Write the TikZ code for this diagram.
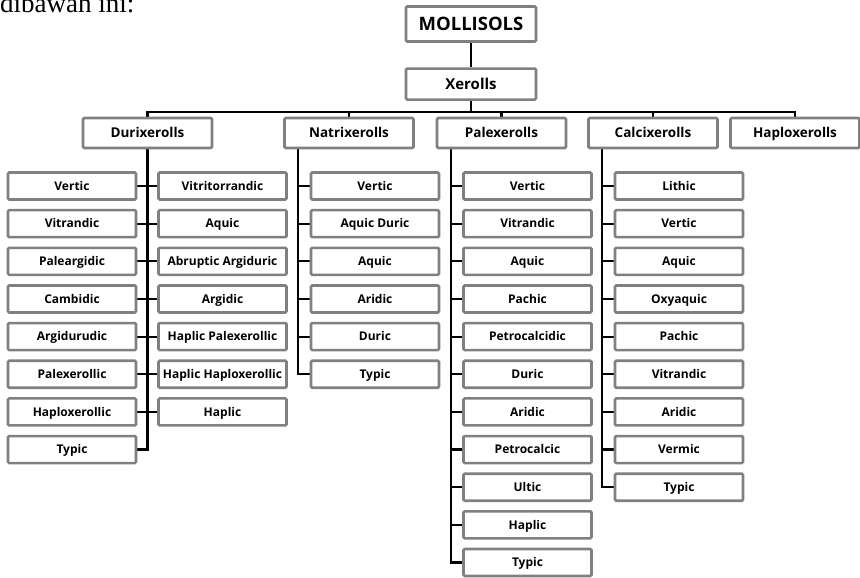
\documentclass[tikz,border=0pt]{standalone}
\usepackage{fontspec}
\setmainfont{Open Sans}
\newfontfamily\pagefont{Liberation Serif}
\usepackage{tikz}
\usetikzlibrary{calc}
\usetikzlibrary{positioning}
\usetikzlibrary{backgrounds}

\begin{document}
\begin{tikzpicture}[
            x=1pt, y=-1pt,
            font=\bfseries,
            box/.style={
                draw=black!50, line width=2.6pt, rounded corners=1.2pt,
                fill=white, align=center, inner sep=0pt, text depth=0pt,
            },
            order/.style={
                box, minimum width=130pt, minimum height=35pt, text height=13.2pt,
                font=\bfseries\fontsize{18.5}{20}\selectfont,
            },
            suborder/.style={
                box, minimum width=130pt, minimum height=31pt, text height=10.7pt,
                font=\bfseries\fontsize{15}{17}\selectfont,
            },
            greatgroup/.style={
                box, minimum width=129pt, minimum height=30pt, text height=9.6pt,
                font=\bfseries\fontsize{13.5}{15}\selectfont,
            },
            subgroup/.style={
                box, minimum width=128pt, minimum height=27pt, text height=8.6pt,
                font=\bfseries\fontsize{12}{13}\selectfont,
            },
            link/.style={draw=black, line width=2.2pt},
        ]
            \useasboundingbox (0,0) rectangle (860,578);

            % --- cut-off line of the page above ---
            \node[anchor=base west, inner sep=0pt, font=\pagefont\mdseries\fontsize{27}{28}\selectfont] (pagetext) at (0,12.5) {dibawah ini:};

            % --- order and suborder ---
            \node[order] (mol) at (471,24) {MOLLISOLS};
            \node[suborder, below=24.5pt of mol] (xer) {Xerolls};

            % --- great groups, one row ---
            \node[greatgroup] (dur) at (147.5,133) {Durixerolls};
            \node[greatgroup] (nat) at (349,133) {Natrixerolls};
            \node[greatgroup] (pal) at (501.5,133) {Palexerolls};
            \node[greatgroup] (cal) at (653,133) {Calcixerolls};
            \node[greatgroup] (hap) at (795,133) {Haploxerolls};

            % --- subgroups, one column per great group ---
            \foreach \name [count=\i] in {Vertic, Vitrandic, Paleargidic, Cambidic, Argidurudic, Palexerollic, Haploxerollic, Typic}
                \node[subgroup] (durL\i) at (72, 148.35+37.65*\i) {\name};
            \foreach \name [count=\i] in {Vitritorrandic, Aquic, Abruptic Argiduric, Argidic, Haplic Palexerollic, Haplic Haploxerollic, Haplic}
                \node[subgroup] (durR\i) at (222.5, 148.35+37.65*\i) {\name};
            \foreach \name [count=\i] in {Vertic, Aquic Duric, Aquic, Aridic, Duric, Typic}
                \node[subgroup] (nat\i) at (375, 148.35+37.65*\i) {\name};
            \foreach \name [count=\i] in {Vertic, Vitrandic, Aquic, Pachic, Petrocalcidic, Duric, Aridic, Petrocalcic, Ultic, Haplic, Typic}
                \node[subgroup] (pal\i) at (527.5, 148.35+37.65*\i) {\name};
            \foreach \name [count=\i] in {Lithic, Vertic, Aquic, Oxyaquic, Pachic, Vitrandic, Aridic, Vermic, Typic}
                \node[subgroup] (cal\i) at (679, 148.35+37.65*\i) {\name};

            \begin{scope}[on background layer]
                % --- main chain and bus ---
                \draw[link] (mol) -- (xer);
                \coordinate (bus) at ($(xer.south)+(0,11)$);
                \draw[link] (xer.south) -- (bus);
                \draw[link] (dur.north) |- (bus) -| (hap.north);
                \foreach \g in {nat,pal,cal}
                    \draw[link] (\g.north) -- (\g.north |- bus);

                % --- Durixerolls: trunk between two columns ---
                \draw[link] (dur.south) |- (durL8.east);
                \foreach \i in {1,...,7}
                    \draw[link] (durL\i.east) -- (durR\i.west);

                % --- other trunks, near the left side of the parent ---
                \coordinate (natT) at ($(nat.south west)+(15,0)$);
                \draw[link] (natT) |- (nat6.west);
                \foreach \i in {1,...,5}
                    \draw[link] (nat\i.west) -- (nat\i.west -| natT);

                \coordinate (palT) at ($(pal.south west)+(15,0)$);
                \draw[link] (palT) |- (pal11.west);
                \foreach \i in {1,...,10}
                    \draw[link] (pal\i.west) -- (pal\i.west -| palT);

                \coordinate (calT) at ($(cal.south west)+(15,0)$);
                \draw[link] (calT) |- (cal9.west);
                \foreach \i in {1,...,8}
                    \draw[link] (cal\i.west) -- (cal\i.west -| calT);
            \end{scope}
        \end{tikzpicture}
\end{document}
